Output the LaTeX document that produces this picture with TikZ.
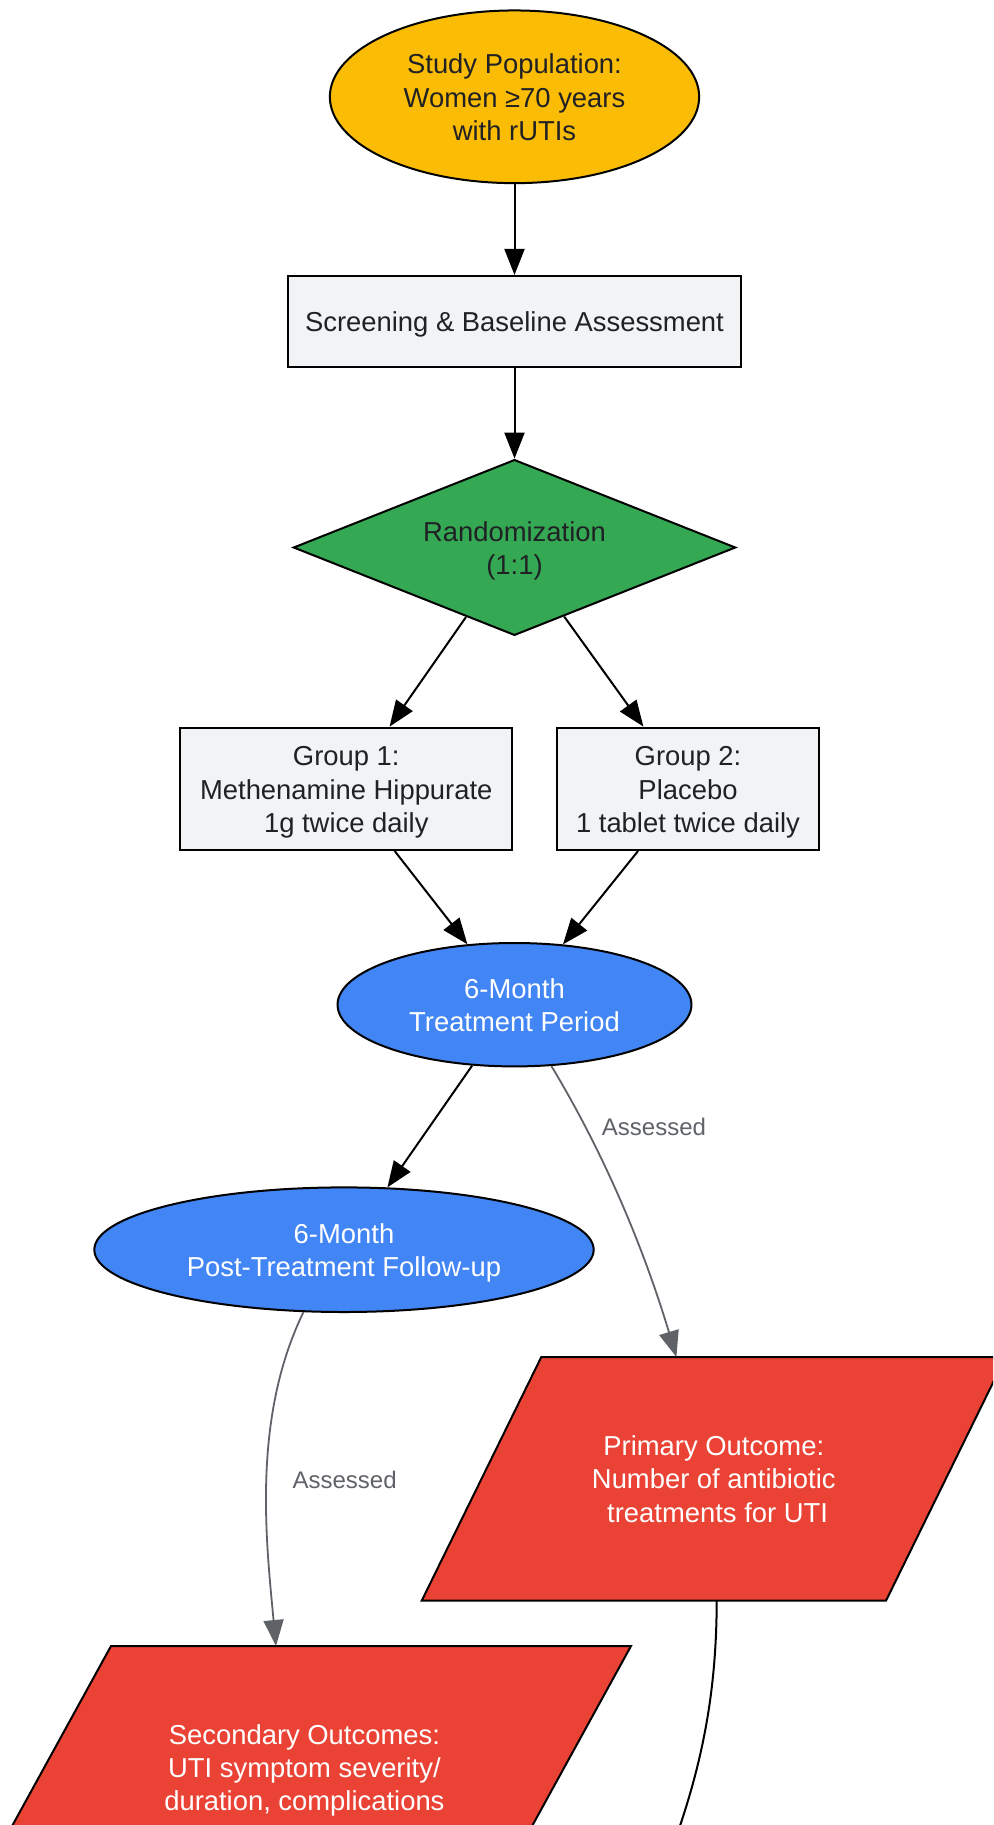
\documentclass[tikz,border=0pt]{standalone}
\usepackage{fontspec}
\setmainfont{Liberation Sans}
\usetikzlibrary{shapes.geometric,arrows.meta,calc}
\definecolor{gyellow}{HTML}{FBBC05}
\definecolor{ggreen}{HTML}{34A853}
\definecolor{gblue}{HTML}{4285F4}
\definecolor{gred}{HTML}{EA4335}
\definecolor{gbox}{HTML}{F1F3F4}
\definecolor{gtext}{HTML}{202124}
\definecolor{ggray}{HTML}{5F6368}
\newcommand{\topstrut}{\rule{0pt}{27pt}}
\newcommand{\botstrut}{\rule[-6.5pt]{0pt}{6.5pt}}
\begin{document}
\begin{tikzpicture}[x=1pt,y=-1pt,
  txt/.style={align=center, inner sep=0pt,
    font=\fontsize{27.4}{33.2}\selectfont,
    execute at end node=\botstrut},
  base/.style={txt, draw=black, line width=2pt},
  ellnode/.style={base, ellipse},
  boxnode/.style={base, rectangle, fill=gbox, text=gtext},
  link/.style={draw=black, line width=2pt, -{Triangle[length=26pt,width=20pt]}},
  graylink/.style={draw=ggray, line width=1.8pt, -{Triangle[length=26pt,width=20pt]}},
  lbl/.style={text=ggray, inner sep=0pt, font=\fontsize{24}{29}\selectfont},
  para/.style={fill=gred, draw=black, line width=2pt, line join=miter},
  outtext/.style={txt, text=white}
]
\useasboundingbox (0,0) rectangle (993,1825);
\fill[white] (0,0) rectangle (993,1825);
\clip (0,0) rectangle (993,1825);

% nodes
\node[ellnode, fill=gyellow, text=gtext, minimum width=369.3pt, minimum height=172.7pt]
  (study) at (514.5,96.8) {\topstrut Study Population:\\Women ≥70 years\\with rUTIs};
\node[boxnode, minimum width=453.7pt, minimum height=90.7pt]
  (screen) at (514.5,321.3) {\topstrut Screening \& Baseline Assessment};
\node[base, diamond, shape aspect=2.5, fill=ggreen, text=gtext,
  minimum width=442.3pt, minimum height=175.8pt]
  (rand) at (514.5,547.5) {\topstrut Randomization\\(1:1)};
\node[boxnode, minimum width=331.8pt, minimum height=122.4pt]
  (g1) at (346.3,788.8) {\topstrut Group 1:\\Methenamine Hippurate\\1g twice daily};
\node[boxnode, minimum width=261.5pt, minimum height=122.4pt]
  (g2) at (688,788.8) {\topstrut Group 2:\\Placebo\\1 tablet twice daily};
\node[ellnode, fill=gblue, text=white, minimum width=353.9pt, minimum height=123.4pt]
  (treat) at (514.5,1004.7) {\topstrut 6-Month\\Treatment Period};
\node[ellnode, fill=gblue, text=white, minimum width=499.4pt, minimum height=124.6pt]
  (follow) at (344,1249.7) {\topstrut 6-Month\\Post-Treatment Follow-up};

% parallelograms
\draw[para] (541.3,1357) -- (1005.6,1357) -- (886,1600.7) -- (421.7,1600.7) -- cycle;
\draw[para] (111,1646) -- (631,1646) -- (498,1888) -- (-22,1888) -- cycle;
\node[outtext] (prim) at (713.8,1478.6)
  {\topstrut Primary Outcome:\\Number of antibiotic\\\hspace*{0.278em}treatments for UTI};
\node[outtext] (sec) at (304.4,1767)
  {\topstrut Secondary Outcomes:\\UTI symptom severity/\\duration, complications};

\coordinate (primtop) at (676.4,1357);
\coordinate (sectop) at (276,1646);
\coordinate (primbot) at (716.7,1601);
\coordinate (offbelow) at (660,1880);

% connectors
\draw[link] (study) -- (screen);
\draw[link] (screen) -- (rand);
\draw[link] (rand) -- (g1);
\draw[link] (rand) -- (g2);
\draw[link] (g1) -- (treat);
\draw[link] (g2) -- (treat);
\draw[link] (treat) -- (follow);
\draw[graylink] (treat) .. controls (610,1163.4) and (647.3,1260) .. (primtop);
\draw[graylink] (follow.-123) .. controls (252,1418) and (266,1540) .. (sectop);
\draw[draw=black, line width=2pt] (primbot) .. controls (716.5,1700) and (700,1780) .. (offbelow);

% labels
\node[lbl] (lab1) at (654,1127) {Assessed};
\node[lbl] (lab2) at (344.6,1479.6) {Assessed};
\end{tikzpicture}
\end{document}
